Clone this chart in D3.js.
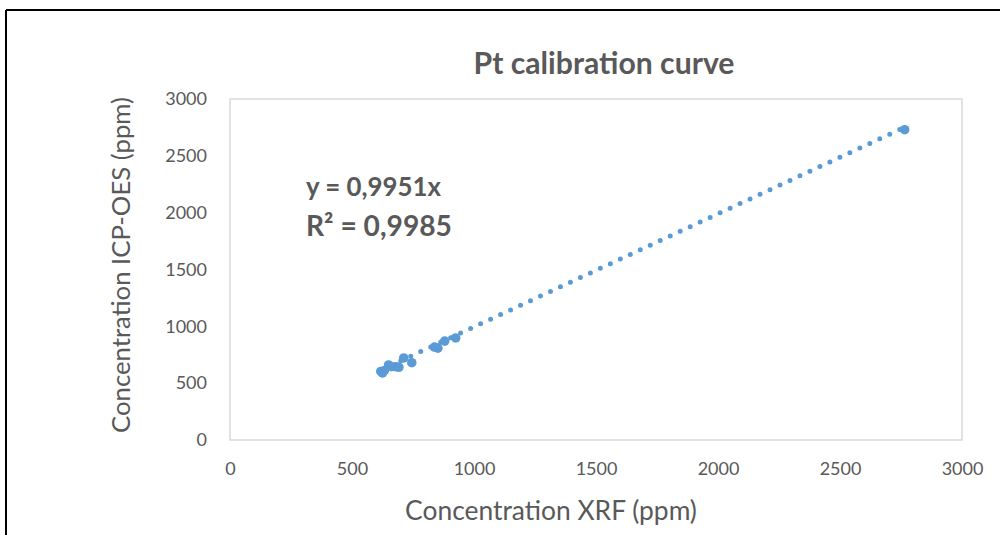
<!DOCTYPE html>
<html>
<head>
<meta charset="utf-8">
<script src="https://cdn.jsdelivr.net/npm/d3@7"></script>
<style>
  body { margin: 0; background: #fff; }
  svg { display: block; font-family: Lato, "Open Sans", sans-serif; }
</style>
</head>
<body>
<svg id="chart" width="1000" height="535"></svg>
<script>
// measured values (XRF vs ICP-OES, ppm)
const xrfValues = [618, 625, 633, 650, 662, 680, 692, 712, 745, 838, 852, 880, 925, 2765];
const icpValues = [603, 590, 612, 660, 645, 645, 640, 722, 680, 818, 808, 870, 898, 2730];
const xTicks = [0, 500, 1000, 1500, 2000, 2500, 3000];
const yTicks = [0, 500, 1000, 1500, 2000, 2500, 3000];
const slope = 0.9951;
const equationLines = ["y = 0,9951x", "R² = 0,9985"];

const svg = d3.select("#chart");
const margins = { top: 99, left: 230, right: 38, bottom: 95 };
const W = 1000, H = 535;
const textColor = "#595959";
const blue = "#5b9bd5";

// fit a text element to a target width by adjusting its font size
function fitWidth(sel, target) {
  const len = sel.node().getComputedTextLength();
  const fs = parseFloat(sel.attr("font-size"));
  sel.attr("font-size", (fs * target / len).toFixed(2));
}

// outer black frame (screenshot border)
svg.append("line").attr("x1", 6).attr("x2", 1000).attr("y1", 10).attr("y2", 10)
  .attr("stroke", "#000").attr("stroke-width", 2);
svg.append("line").attr("x1", 6).attr("x2", 6).attr("y1", 10).attr("y2", H)
  .attr("stroke", "#000").attr("stroke-width", 2);

const x = d3.scaleLinear().domain([0, 3000]).range([margins.left, W - margins.right]);
const y = d3.scaleLinear().domain([0, 3000]).range([H - margins.bottom, margins.top]);

// plot area border
svg.append("rect")
  .attr("x", x(0)).attr("y", y(3000))
  .attr("width", x(3000) - x(0)).attr("height", y(0) - y(3000))
  .attr("fill", "none").attr("stroke", "#d9d9d9").attr("stroke-width", 1.5);

// axes (labels only)
const xAxis = svg.append("g")
  .attr("transform", `translate(0,${y(0)})`)
  .call(d3.axisBottom(x).tickValues(xTicks).tickSize(0).tickPadding(22).tickFormat(d3.format("d")));
xAxis.select(".domain").remove();
xAxis.selectAll("text").attr("font-size", 18).attr("fill", textColor).attr("font-family", "Lato");

const yAxis = svg.append("g")
  .attr("transform", `translate(${x(0)},0)`)
  .call(d3.axisLeft(y).tickValues(yTicks).tickSize(0).tickPadding(23).tickFormat(d3.format("d")));
yAxis.select(".domain").remove();
yAxis.selectAll("text").attr("font-size", 18).attr("fill", textColor).attr("font-family", "Lato");

// trendline y = slope * x, dotted
const xMin = d3.min(xrfValues), xMax = d3.max(xrfValues);
svg.append("line")
  .attr("x1", x(xMin)).attr("y1", y(slope * xMin))
  .attr("x2", x(xMax)).attr("y2", y(slope * xMax))
  .attr("stroke", blue).attr("stroke-width", 5)
  .attr("stroke-linecap", "round").attr("stroke-dasharray", "0 11");

// data points
svg.append("g").selectAll("circle")
  .data(xrfValues.map((v, i) => [v, icpValues[i]]))
  .join("circle")
  .attr("cx", d => x(d[0]))
  .attr("cy", d => y(d[1]))
  .attr("r", 4.8)
  .attr("fill", blue);

// title
const title = svg.append("text")
  .attr("x", 604).attr("y", 74)
  .attr("text-anchor", "middle").attr("font-size", 24).attr("font-weight", 700)
  .attr("fill", textColor).text("Pt calibration curve");
fitWidth(title, 261);

// axis titles
const xTitle = svg.append("text")
  .attr("x", 551).attr("y", 520)
  .attr("text-anchor", "middle").attr("font-size", 24)
  .attr("fill", textColor).text("Concentration XRF (ppm)");
fitWidth(xTitle, 292);

const yTitle = svg.append("text")
  .attr("transform", "translate(130,265) rotate(-90)")
  .attr("text-anchor", "middle").attr("font-size", 24)
  .attr("fill", textColor).text("Concentration ICP-OES (ppm)");
fitWidth(yTitle, 336);

// equation label
const eq1 = svg.append("text").attr("x", 306).attr("y", 196)
  .attr("font-size", 24).attr("font-weight", 700).attr("fill", textColor).text(equationLines[0]);
fitWidth(eq1, 135);
const eq2 = svg.append("text").attr("x", 306).attr("y", 236)
  .attr("font-size", 24).attr("font-weight", 700).attr("fill", textColor).text(equationLines[1]);
fitWidth(eq2, 146);
</script>
</body>
</html>
